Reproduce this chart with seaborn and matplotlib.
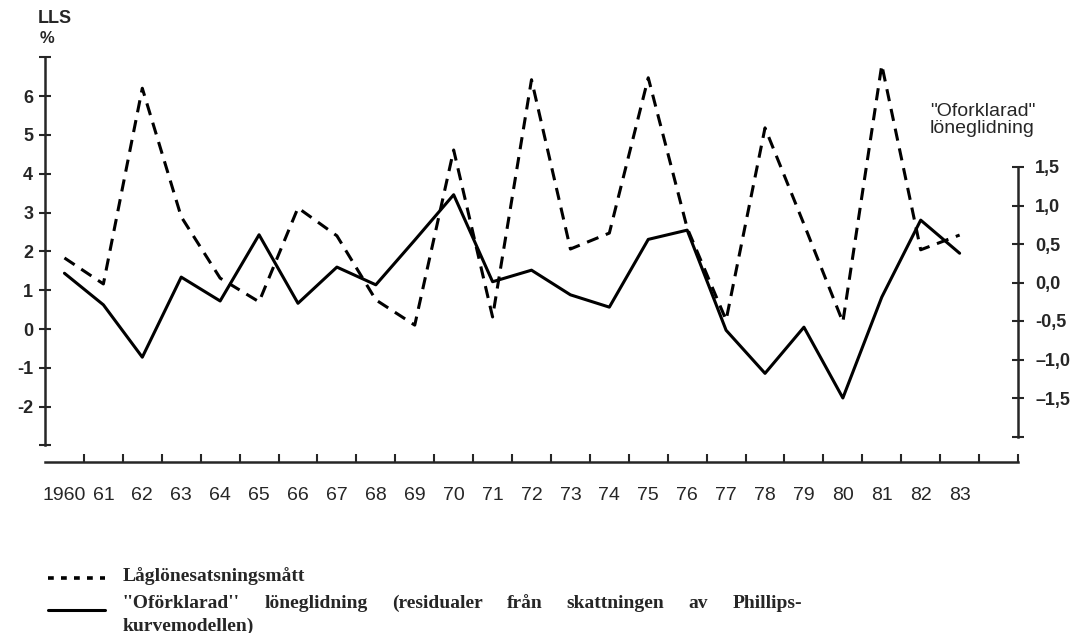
import numpy as np
import matplotlib.pyplot as plt
import seaborn as sns
from matplotlib.lines import Line2D

# values
years = list(range(1960, 1984))
lls = [1.83, 1.16, 6.2, 2.89, 1.31, 0.70, 3.12, 2.4, 0.75, 0.10, 4.61, 0.31,
       6.42, 2.06, 2.47, 6.47, 2.6, 0.23, 5.18, 2.7, 0.18, 6.8, 2.04, 2.42]
residual = [0.12, -0.29, -0.97, 0.07, -0.24, 0.62, -0.27, 0.20, -0.03, 0.55, 1.14, 0.01,
            0.16, -0.16, -0.32, 0.56, 0.68, -0.62, -1.18, -0.58, -1.50, -0.19, 0.81, 0.38]

year_labels = ["1960"] + [str(y)[2:] for y in years[1:]]
left_ticks = list(range(-3, 8))
left_labels = [""] + ["-2", "-1", "0", "1", "2", "3", "4", "5", "6"] + [""]
right_ticks = [-2.0, -1.5, -1.0, -0.5, 0.0, 0.5, 1.0, 1.5]
right_labels = ["", "\u20131,5", "\u20131,0", "-0,5", "0,0", "0,5", "1,0", "1,5"]

sns.set_style("ticks")
plt.rcParams['font.family'] = ['Liberation Sans', 'DejaVu Sans']

W, H = 1079, 633
fig = plt.figure(figsize=(W / 100, H / 100), dpi=100)


def px(x, y):
    return x / W, 1 - y / H


ax = fig.add_axes([45 / W, 1 - 462 / H, (1018 - 45) / W, (462 - 57) / H])
ax2 = ax.twinx()

mid = np.array(years) + 0.5  # values are plotted in the middle of each year

sns.lineplot(x=mid, y=lls, ax=ax, color="black", lw=2.2)
ax.lines[0].set_linestyle((0, (4, 2.6)))
sns.lineplot(x=mid, y=residual, ax=ax2, color="black", lw=2.2)

ax.set_xlim(1960, 1985)
ax.set_ylim((329 - 462) / 38.83, (329 - 57) / 38.83)
ax2.set_ylim((282.5 - 462) / 77, (282.5 - 57) / 77)

for a in (ax, ax2):
    a.set_xlabel("")
    a.set_ylabel("")
    a.spines["top"].set_visible(False)
    a.set_facecolor("none")
    for s in a.spines.values():
        s.set_linewidth(1.8)

ax.spines["right"].set_visible(False)
ax.spines["left"].set_bounds(-3, 7)
ax2.spines["left"].set_visible(False)
ax2.spines["bottom"].set_visible(False)
ax2.spines["right"].set_bounds(-2, 1.5)

# x axis: ticks at year boundaries, labels in the middle
ax.set_xticks(range(1961, 1986))
ax.set_xticklabels([])
ax.set_xticks(mid, minor=True)
ax.set_xticklabels(year_labels, minor=True)
ax.tick_params(axis="x", which="major", direction="in", length=6, width=1.5)
ax.tick_params(axis="x", which="minor", length=0, pad=18, labelsize=14)

ax.set_yticks(left_ticks)
ax.set_yticklabels(left_labels)
ax.tick_params(axis="y", direction="inout", length=9, width=1.5, labelsize=13, pad=4)

ax2.set_yticks(right_ticks)
ax2.set_yticklabels(right_labels)
ax2.tick_params(axis="y", direction="inout", length=9, width=1.5, labelsize=13, pad=8)

for lab in ax.get_yticklabels() + ax2.get_yticklabels():
    lab.set_fontweight("bold")

# axis titles
fig.text(*px(38, 10), "LLS", ha="left", va="top", fontsize=13, fontweight="bold")
fig.text(*px(40, 31), "%", ha="left", va="top", fontsize=12, fontweight="bold")
fig.text(*px(930, 103), "\"Oforklarad\"\nlöneglidning", ha="left", va="top",
         fontsize=14, linespacing=1.0)

# legend below the chart
fig.add_artist(Line2D([px(48, 0)[0], px(105, 0)[0]], [px(0, 578)[1]] * 2,
                      color="black", lw=2.6, linestyle=(0, (1.6, 2.0))))
fig.add_artist(Line2D([px(48, 0)[0], px(105, 0)[0]], [px(0, 610)[1]] * 2,
                      color="black", lw=2.2))
serif = dict(family=["Liberation Serif", "DejaVu Serif"], fontweight="bold", fontsize=14,
             ha="left", va="center")
fig.text(*px(123, 576), "Låglönesatsningsmått", **serif)
fig.text(*px(123, 626), "kurvemodellen)", **serif)

# second legend line is justified to the column width, as in print
line2 = "''Oförklarad'' löneglidning (residualer från skattningen av Phillips-"
words = [fig.text(*px(123, 603), w, **serif) for w in line2.split(" ")]
fig.canvas.draw()
renderer = fig.canvas.get_renderer()
widths = [t.get_window_extent(renderer).width for t in words]
gap = (802 - 123 - sum(widths)) / (len(words) - 1)
x = 123
for t, w in zip(words, widths):
    t.set_position(px(x, 603))
    x += w + gap

fig.savefig("out.png", dpi=100)
